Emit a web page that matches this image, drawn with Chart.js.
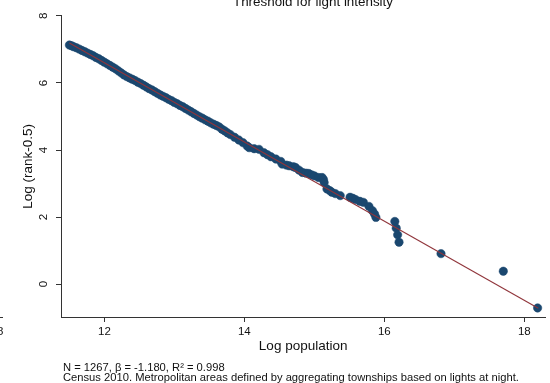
<!DOCTYPE html>
<html>
<head>
<meta charset="utf-8">
<script src="https://cdn.jsdelivr.net/npm/chart.js@4.4.0/dist/chart.umd.min.js"></script>
<style>
body { margin: 0; background: #fff; }
canvas { display: block; }
</style>
</head>
<body>
<canvas id="chart" width="550" height="383"></canvas>
<script>
// log population (x) and log(rank-0.5) (y)
const logPop = [11.50, 11.53, 11.56, 11.60, 11.64, 11.68, 11.72, 11.76, 11.80, 11.84,
    11.88, 11.92, 11.96, 12.00, 12.04, 12.08, 12.12, 12.16, 12.20, 12.24,
    12.28, 12.32, 12.36, 12.40, 12.44, 12.48, 12.52, 12.56, 12.60, 12.64,
    12.68, 12.72, 12.76, 12.80, 12.84, 12.88, 12.92, 12.96, 13.00, 13.04,
    13.08, 13.12, 13.16, 13.20, 13.24, 13.28, 13.32, 13.36, 13.40, 13.44,
    13.48, 13.52, 13.56, 13.60, 13.64, 13.68, 13.72, 13.76, 13.80, 13.86,
    13.92, 13.98, 14.04, 14.07, 14.14, 14.21, 14.28, 14.33, 14.38, 14.45,
    14.52, 14.54, 14.60, 14.64, 14.70, 14.73, 14.78, 14.83, 14.88, 14.92,
    14.96, 15.00, 15.06, 15.11, 15.13, 15.14, 15.18, 15.22, 15.25, 15.30,
    15.37, 15.51, 15.55, 15.59, 15.65, 15.70, 15.78, 15.83, 15.86, 15.88,
    16.15, 16.17, 16.19, 16.21, 16.81, 17.70, 18.19];
const logRank = [7.13, 7.11, 7.08, 7.05, 7.01, 6.97, 6.93, 6.89, 6.85, 6.81,
    6.76, 6.72, 6.67, 6.62, 6.57, 6.52, 6.47, 6.42, 6.36, 6.30,
    6.24, 6.19, 6.15, 6.11, 6.07, 6.02, 5.98, 5.93, 5.88, 5.83,
    5.79, 5.74, 5.69, 5.64, 5.60, 5.56, 5.51, 5.47, 5.42, 5.38,
    5.33, 5.29, 5.24, 5.19, 5.14, 5.09, 5.04, 4.99, 4.95, 4.90,
    4.86, 4.81, 4.77, 4.73, 4.69, 4.62, 4.57, 4.51, 4.46, 4.38,
    4.30, 4.22, 4.12, 4.07, 4.04, 4.02, 3.92, 3.86, 3.80, 3.73,
    3.66, 3.58, 3.55, 3.53, 3.50, 3.48, 3.40, 3.33, 3.31, 3.30,
    3.26, 3.23, 3.18, 3.18, 3.12, 3.03, 2.84, 2.79, 2.74, 2.70,
    2.64, 2.59, 2.56, 2.52, 2.47, 2.44, 2.32, 2.19, 2.09, 1.99,
    1.87, 1.67, 1.47, 1.25, 0.91, 0.385, -0.71];

// ends of the fitted line
const fitX = [11.50, 18.20];
const fitY = [7.19, -0.72];

const xTicks = [12, 14, 16, 18];
const yTicks = [0, 2, 4, 6, 8];
const xRange = [11.38, 18.30];
const yRange = [-0.98, 8];

const titleText = "Threshold for light intensity";
const noteLines = [
    "N = 1267, \u03B2 = -1.180, R\u00B2 = 0.998",
    "Census 2010. Metropolitan areas defined by aggregating townships based on lights at night."
];

const FONT = '"Liberation Sans", Arial, sans-serif';
const navy = '#1a476f';
const maroon = '#90353b';
const axisColor = '#333';

let points = logPop.map((x, i) => ({ x: x, y: logRank[i] }));
let fitLine = fitX.map((x, i) => ({ x: x, y: fitY[i] }));

// title (cut at the top edge), notes, and the sliver of the panel to the left
const extras = {
    id: 'extras',
    afterDraw(chart) {
        const ctx = chart.ctx;
        ctx.save();
        ctx.fillStyle = '#111';
        ctx.textBaseline = 'alphabetic';
        ctx.textAlign = 'center';
        ctx.font = '13.4px ' + FONT;
        ctx.fillText(titleText, 313, 5.5);

        ctx.textAlign = 'left';
        ctx.font = '11.2px ' + FONT;
        ctx.fillText(noteLines[0], 63, 370.5);
        ctx.fillText(noteLines[1], 63, 381);

        ctx.strokeStyle = axisColor;
        ctx.lineWidth = 1;
        ctx.beginPath();
        ctx.moveTo(0, 317.5);
        ctx.lineTo(3, 317.5);
        ctx.stroke();
        ctx.textAlign = 'right';
        ctx.textBaseline = 'middle';
        ctx.font = '11.5px ' + FONT;
        ctx.fillText("18", 3.5, 332);
        ctx.restore();
    }
};

let ctx = document.getElementById('chart').getContext('2d');
let chart = new Chart(ctx, {
    type: 'scatter',
    data: {
        datasets: [{
            type: 'line',
            label: 'Fitted',
            data: fitLine,
            borderColor: maroon,
            borderWidth: 1.1,
            pointRadius: 0,
            fill: false,
            order: 0
        }, {
            label: 'Log (rank-0.5)',
            data: points,
            backgroundColor: navy,
            borderColor: navy,
            borderWidth: 0.5,
            pointRadius: 4.2,
            order: 1
        }]
    },
    options: {
        responsive: false,
        animation: false,
        layout: { padding: { top: 14, right: 0, bottom: 0, left: 0 } },
        plugins: {
            legend: { display: false },
            tooltip: { enabled: false },
            title: { display: false }
        },
        scales: {
            x: {
                type: 'linear',
                min: xRange[0],
                max: xRange[1],
                afterBuildTicks: (scale) => { scale.ticks = xTicks.map(v => ({ value: v })); },
                afterFit: (scale) => { scale.height = 66; },
                grid: { drawOnChartArea: false, drawTicks: true, tickLength: 5, color: axisColor },
                border: { display: true, color: axisColor, width: 1 },
                ticks: { color: '#111', font: { family: FONT, size: 11.5 }, padding: 3, maxRotation: 0 },
                title: {
                    display: true,
                    text: 'Log population',
                    color: '#111',
                    font: { family: FONT, size: 13.5 },
                    padding: { top: 0, bottom: 29 }
                }
            },
            y: {
                type: 'linear',
                min: yRange[0],
                max: yRange[1],
                afterBuildTicks: (scale) => { scale.ticks = yTicks.map(v => ({ value: v })); },
                afterFit: (scale) => { scale.width = 61; },
                grid: { drawOnChartArea: false, drawTicks: true, tickLength: 5, color: axisColor },
                border: { display: true, color: axisColor, width: 1 },
                ticks: {
                    color: '#111',
                    font: { family: FONT, size: 11.5 },
                    minRotation: 90,
                    maxRotation: 90,
                    crossAlign: 'center',
                    padding: 9
                },
                title: {
                    display: true,
                    text: 'Log (rank-0.5)',
                    color: '#111',
                    font: { family: FONT, size: 13.5 },
                    padding: { top: 20, bottom: 0 }
                }
            }
        }
    },
    plugins: [extras]
});
</script>
</body>
</html>
